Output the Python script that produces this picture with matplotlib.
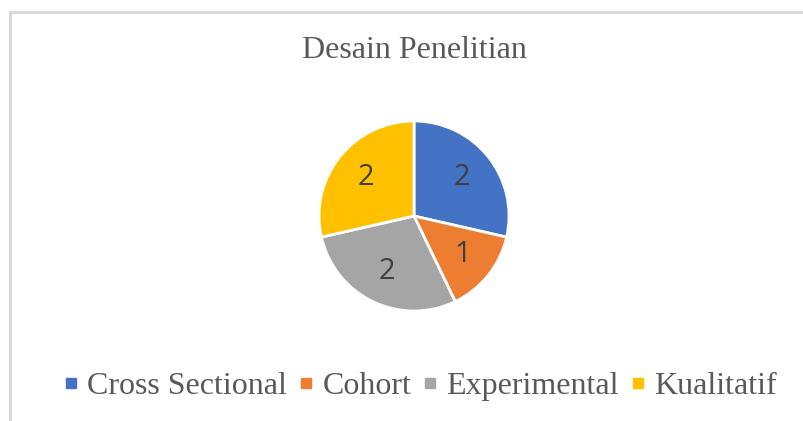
import matplotlib.pyplot as plt
from matplotlib.lines import Line2D
from matplotlib.patches import Rectangle

categories = ["Cross Sectional", "Cohort", "Experimental", "Kualitatif"]
values = [2, 1, 2, 2]
colors = ["#4472C4", "#ED7D31", "#A5A5A5", "#FFC000"]
title = "Desain Penelitian"

text_color = "#595959"
serif = ["Liberation Serif", "DejaVu Serif"]

fig = plt.figure(figsize=(8.04, 4.21), dpi=100)

# chart border (only top and left visible in the crop)
fig.add_artist(Rectangle((10.5 / 804, -0.1), 1.2, 1.1 - 11.5 / 421,
                         transform=fig.transFigure, fill=False,
                         edgecolor="#d9d9d9", linewidth=2.2))

r = 95
cx, cy = 414, 216
ax = fig.add_axes([(cx - r) / 804, (421 - cy - r) / 421, 2 * r / 804, 2 * r / 421])
wedges, texts = ax.pie(values, colors=colors, startangle=90, counterclock=False,
                       labels=[str(v) for v in values], labeldistance=0.65,
                       wedgeprops=dict(edgecolor="white", linewidth=2))
for t in texts:
    t.set_ha("center")
    t.set_va("center")
    t.set_fontsize(21)
    t.set_color("#404040")
    t.set_family(["Open Sans", "DejaVu Sans"])
ax.set_aspect("equal")
ax.set_xlim(-1, 1)
ax.set_ylim(-1, 1)

fig.text(414 / 804, 1 - 51 / 421, title, ha="center", va="center",
         fontsize=23, color=text_color, family=serif)

handles = [Line2D([], [], marker="s", linestyle="", markersize=7.5,
                  markerfacecolor=c, markeredgecolor=c) for c in colors]
fig.legend(handles, categories, loc="center", bbox_to_anchor=(416 / 804, 1 - 386 / 421),
           ncol=4, frameon=False, handletextpad=0.0, columnspacing=0.1,
           handlelength=1.0, prop=dict(family=serif, size=23), labelcolor=text_color)

fig.savefig("out.png", dpi=100)
